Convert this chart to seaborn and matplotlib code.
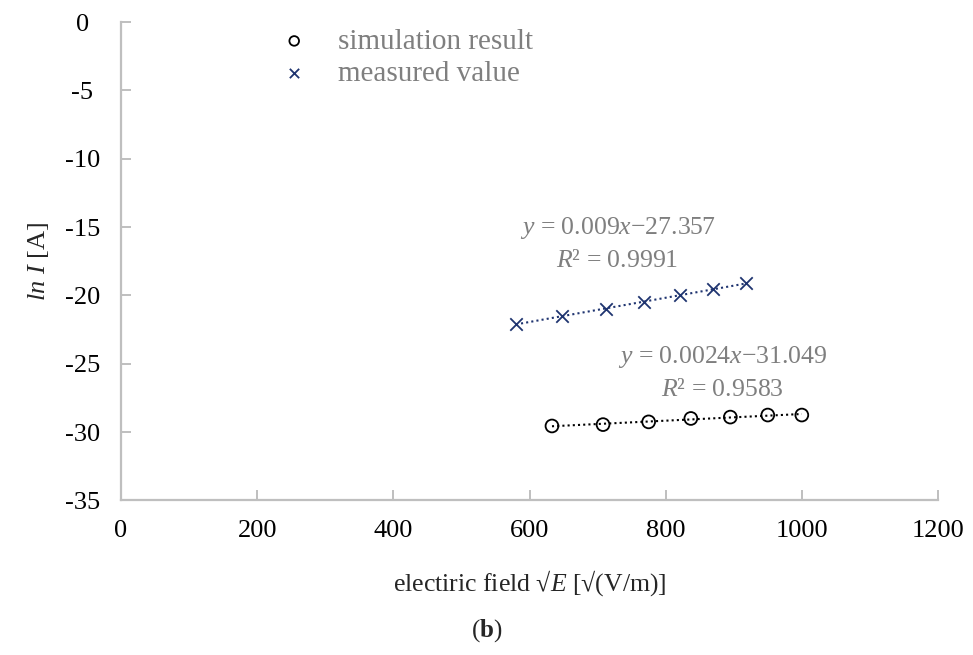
import numpy as np
import pandas as pd
import matplotlib
matplotlib.use("Agg")
import matplotlib.pyplot as plt
import seaborn as sns

# --- DATA ---
sim_x = [633, 708, 775, 837, 895, 950, 1000]
sim_y = [-29.55, -29.45, -29.25, -29.0, -28.9, -28.75, -28.75]
meas_x = [580, 648, 712, 768, 821, 870, 918]
meas_y = [-22.1, -21.5, -21.0, -20.45, -20.0, -19.55, -19.1]

sim_eq = "$y$ = 0.0024$x$\u221231.049"
sim_r2 = "$R$\u00b2 = 0.9583"
meas_eq = "$y$ = 0.009$x$\u221227.357"
meas_r2 = "$R$\u00b2 = 0.9991"

x_ticks = [0, 200, 400, 600, 800, 1000, 1200]
y_ticks = [0, -5, -10, -15, -20, -25, -30, -35]

# --- STYLE ---
sns.set_theme(style="white")
plt.rcParams["font.family"] = ["Liberation Serif", "DejaVu Serif"]
plt.rcParams["mathtext.fontset"] = "custom"
plt.rcParams["mathtext.it"] = "Liberation Serif:italic"
plt.rcParams["mathtext.rm"] = "Liberation Serif"
plt.rcParams["mathtext.bf"] = "Liberation Serif:bold"

NAVY = "#1f3470"
GRAY = "#7f7f7f"
SPINE = "#bfbfbf"

df_sim = pd.DataFrame({"x": sim_x, "y": sim_y})
df_meas = pd.DataFrame({"x": meas_x, "y": meas_y})

fig = plt.figure(figsize=(9.73, 6.55), dpi=100)
ax = fig.add_axes([0.1244, 0.2359, 0.8396, 0.7305])

# trendlines (dotted), spanning the data range
sns.regplot(data=df_meas, x="x", y="y", ax=ax, scatter=False, ci=None,
            truncate=True, line_kws=dict(color=NAVY, lw=1.5, ls=(0, (1, 1.5))))
sns.regplot(data=df_sim, x="x", y="y", ax=ax, scatter=False, ci=None,
            truncate=True, line_kws=dict(color="black", lw=1.5, ls=(0, (1, 1.5))))

# markers
sns.scatterplot(data=df_sim, x="x", y="y", ax=ax, marker="o", s=85,
                facecolors="none", edgecolor="black", linewidth=1.3,
                label="simulation result", zorder=3)
sns.scatterplot(data=df_meas, x="x", y="y", ax=ax, marker="x", s=80,
                color=NAVY, linewidth=1.3, label="measured value", zorder=3)

ax.set_xlim(0, 1200)
ax.set_ylim(-35, 0)
ax.set_xticks(x_ticks)
ax.set_yticks(y_ticks)
ax.set_xticklabels([str(t) for t in x_ticks])
ax.set_yticklabels([str(t) for t in y_ticks], ha="center")

for side in ["top", "right"]:
    ax.spines[side].set_visible(False)
for side in ["left", "bottom"]:
    ax.spines[side].set_color(SPINE)
    ax.spines[side].set_linewidth(1.6)

ax.tick_params(axis="both", direction="in", length=7, width=1.4,
               color=SPINE, labelsize=19, labelcolor="black")
ax.tick_params(axis="y", pad=28, left=True)
ax.tick_params(axis="x", pad=14, bottom=True)

ax.set_xlabel("electiric field \u221a$E$ [\u221a(V/m)]", fontsize=18.5, labelpad=19)
ax.set_ylabel("$ln$ $I$ [A]", fontsize=19, labelpad=10)

# equation annotations
ax.text(729, -15.05, meas_eq, fontsize=18.5, color=GRAY, ha="center", va="center")
ax.text(729, -17.45, meas_r2, fontsize=18.5, color=GRAY, ha="center", va="center")
ax.text(884, -24.5, sim_eq, fontsize=18.5, color=GRAY, ha="center", va="center")
ax.text(884, -26.95, sim_r2, fontsize=18.5, color=GRAY, ha="center", va="center")

leg = ax.legend(loc="upper left", bbox_to_anchor=(0.162, 1.042), frameon=False,
                fontsize=21, handletextpad=1.0, labelspacing=0.2,
                markerscale=0.75, handlelength=1.0)
for t in leg.get_texts():
    t.set_color(GRAY)

fig.text(0.5, 0.037, "($\\mathbf{b}$)", fontsize=18, ha="center", va="center")

fig.savefig("out.png", dpi=100)
